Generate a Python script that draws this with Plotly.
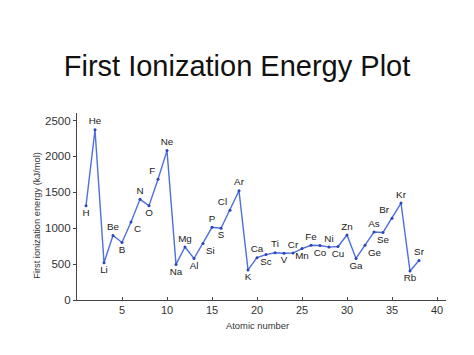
import plotly.graph_objects as go

atomic_numbers = list(range(1, 39))
symbols = ["H", "He", "Li", "Be", "B", "C", "N", "O", "F", "Ne",
           "Na", "Mg", "Al", "Si", "P", "S", "Cl", "Ar", "K", "Ca",
           "Sc", "Ti", "V", "Cr", "Mn", "Fe", "Co", "Ni", "Cu", "Zn",
           "Ga", "Ge", "As", "Se", "Br", "Kr", "Rb", "Sr"]
ionization_energy = [1312, 2372, 520, 899, 801, 1086, 1402, 1314, 1681, 2081,
                     496, 738, 578, 786, 1012, 1000, 1251, 1521, 419, 590,
                     633, 659, 651, 653, 717, 762, 760, 737, 745, 906,
                     579, 762, 947, 941, 1140, 1351, 403, 550]
label_positions = ["bottom center", "top center", "bottom center", "top center", "bottom center",
                   "bottom right", "top center", "bottom center", "top left", "top center",
                   "bottom center", "top center", "bottom center", "bottom right", "top center",
                   "bottom center", "top left", "top center", "bottom center", "top center",
                   "bottom center", "top center", "bottom center", "top center", "bottom center",
                   "top center", "bottom center", "top center", "bottom center", "top center",
                   "bottom center", "bottom right", "top center", "bottom center", "top left",
                   "top center", "bottom center", "top center"]
x_ticks = [5, 10, 15, 20, 25, 30, 35, 40]
y_ticks = [0, 500, 1000, 1500, 2000, 2500]

W, H = 466, 347  # page body adds an 8px offset
FONT = "Liberation Sans, Arial, sans-serif"

fig = go.Figure()
fig.add_trace(go.Scatter(
    x=atomic_numbers, y=ionization_energy, text=symbols,
    mode="lines+markers+text", textposition=label_positions,
    line=dict(color="#4f6fdc", width=1.4),
    marker=dict(color="#2c46b8", size=3),
    textfont=dict(family=FONT, size=9.8, color="#1a1a1a"),
    cliponaxis=False, showlegend=False,
))

fig.update_layout(
    width=W, height=H,
    margin=dict(l=69, r=28, t=105, b=55),
    paper_bgcolor="white", plot_bgcolor="white",
    font=dict(family=FONT, color="#333"),
    title=dict(text="First Ionization Energy Plot", x=(237 - 8) / W, xanchor="center",
               y=1 - 58 / H, yanchor="middle",
               font=dict(size=29, color="#111")),
    annotations=[
        dict(text="First ionization energy (kJ/mol)", xref="paper", yref="paper",
             x=-0.109, y=0.4545, xanchor="center", yanchor="middle", textangle=-90,
             showarrow=False, font=dict(size=9.3, color="#333")),
        dict(text="Atomic number", xref="paper", yref="paper",
             x=0.49, y=-0.139, xanchor="center", yanchor="middle",
             showarrow=False, font=dict(size=9.4, color="#333")),
    ],
)
fig.update_xaxes(range=[0, 41], tickvals=x_ticks, showgrid=False, zeroline=False,
                 showline=True, linecolor="#444", linewidth=1.2,
                 ticks="inside", ticklen=3, tickcolor="#444",
                 tickfont=dict(size=11, color="#333"))
fig.update_yaxes(range=[0, 2605], tickvals=y_ticks, showgrid=False, zeroline=False,
                 showline=True, linecolor="#444", linewidth=1.2,
                 ticks="outside", ticklen=3, tickcolor="#444",
                 tickfont=dict(size=11.5, color="#333"))

fig.write_html("out.html")
